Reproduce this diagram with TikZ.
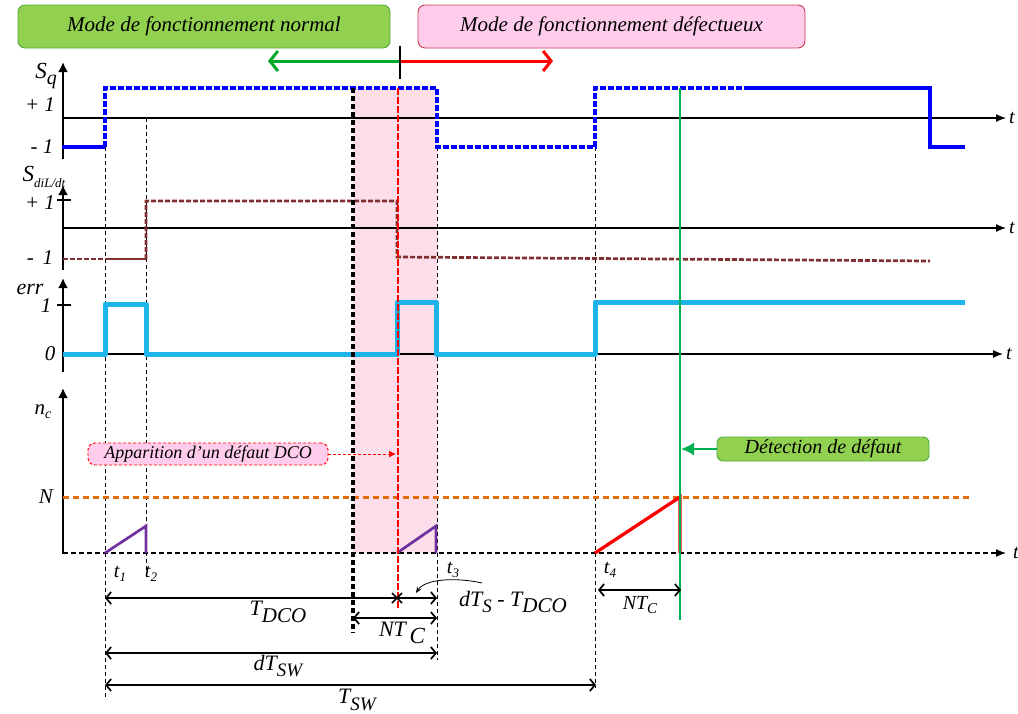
\documentclass[tikz,border=0pt]{standalone}
\usepackage{fontspec}
\usepackage{graphicx}
\setmainfont{Liberation Serif}
\usetikzlibrary{arrows.meta}
\definecolor{gboxfill}{RGB}{146,208,80}
\definecolor{gboxdraw}{RGB}{80,170,60}
\definecolor{pboxfill}{RGB}{255,204,236}
\definecolor{pboxdraw}{RGB}{200,60,80}
\definecolor{pinkarea}{RGB}{251,222,233}
\definecolor{sqblue}{RGB}{0,0,255}
\definecolor{brownsig}{RGB}{128,48,48}
\definecolor{cyansig}{RGB}{30,180,235}
\definecolor{purplesig}{RGB}{112,48,160}
\definecolor{orangesig}{RGB}{228,108,10}
\definecolor{greenline}{RGB}{0,176,80}
\definecolor{arrowgreen}{RGB}{0,170,40}
\newcommand{\mysub}[3][0.3em]{\raisebox{-#1}{\fontsize{#2}{#2}\selectfont #3}}
\tikzset{
  fsz/.style={font=\itshape\fontsize{#1}{#1}\selectfont},
  lbl/.style={inner sep=0pt, fsz=19},
  modebox/.style={rounded corners=7pt, line width=0.9pt, minimum height=43pt, inner sep=0pt, fsz=21},
  axisv/.style={line width=2.4pt, -{Latex[length=10pt,width=10pt]}},
  axish/.style={line width=1.3pt, -{Latex[length=10pt,width=8pt]}},
  guide/.style={line width=0.8pt, dash pattern=on 4pt off 3pt},
  sqsolid/.style={sqblue, line width=3.3pt},
  sqdash/.style={sqblue, line width=3.3pt, dash pattern=on 6pt off 2pt},
  brsolid/.style={brownsig, line width=2.7pt},
  brdash/.style={brownsig, line width=2.7pt, dash pattern=on 5pt off 2pt},
  errline/.style={cyansig, line width=5pt, line join=round},
  ramp/.style={line width=2.7pt},
  dimarrow/.style={line width=1.7pt, {Straight Barb[length=5pt,width=12pt]}-{Straight Barb[length=5pt,width=12pt]}},
}
\begin{document}
\begin{tikzpicture}[x=1pt,y=-1pt]
\useasboundingbox (0,0) rectangle (1018,713);

% pink fault window
\fill[pinkarea] (353,87) rectangle (437,553);

% mode boxes
\node[modebox, fill=gboxfill, draw=gboxdraw, minimum width=372pt] (normal) at (204,26.5) {Mode de fonctionnement normal};
\node[modebox, fill=pboxfill, draw=pboxdraw, minimum width=387pt] (defect) at (611.5,26.5) {Mode de fonctionnement défectueux};

% mode arrows
\coordinate (split) at (400,61);
\coordinate (gend) at (268,61);
\coordinate (rend) at (553,61);
\draw[arrowgreen, line width=3pt, -{Straight Barb[length=8pt,width=20pt]}] (split) -- (gend);
\draw[red, line width=3pt, -{Straight Barb[length=8pt,width=20pt]}] (split) -- (rend);
\draw[line width=2.4pt] (400,46) -- (400,79);

% guides
\draw[guide] (105,147) -- (105,700);
\draw[guide] (146,118) -- (146,578);
\draw[guide] (437,147) -- (437,660);
\draw[guide] (595,147) -- (595,688);

% ---------- Sq panel
\draw[axisv] (63,159) -- (63,62);
\draw[axish] (63,118) -- (1006,118);
\node[lbl, fsz=20, anchor=west] (tq) at (1009,118) {t};
\node[lbl, fsz=23] (sq) at (46,76) {S\mysub{20}{q}};
\node[lbl, fsz=21] (sqp) at (40,105) {+ 1};
\node[lbl, fsz=21] (sqm) at (42,147) {- 1};
\draw[sqsolid] (62,147) -- (105,147);
\draw[sqdash] (105,147) -- (105,88) -- (437,88) -- (437,147) -- (595,147) -- (595,88) -- (746,88);
\draw[sqsolid] (746,88) -- (930,88) -- (930,147) -- (965,147);

% ---------- SdiL/dt panel
\draw[axisv] (63,270) -- (63,185);
\draw[line width=1.7pt] (57,200) -- (71,200);
\draw[axish] (63,228) -- (1006,228);
\node[lbl, fsz=20, anchor=west] (td) at (1009,228) {t};
\node[lbl, fsz=23] (sd) at (44,177) {S\mysub[0.25em]{13}{diL/dt}};
\node[lbl, fsz=21] (sdp) at (40,203) {+ 1};
\node[lbl, fsz=21] (sdm) at (40,258) {-\, 1};
\draw[brdash] (63,259) -- (105,259);
\draw[brsolid] (105,259) -- (146,259);
\draw[brdash] (146,259) -- (146,201) -- (397,201) -- (397,257) -- (930,261);

% ---------- err panel
\draw[axisv] (63,372) -- (63,278);
\draw[line width=1.7pt] (57,305) -- (71,305);
\draw[axish] (63,354) -- (1003,354);
\node[lbl, fsz=20, anchor=west] (te) at (1006,354) {t};
\node[lbl, fsz=22] (errl) at (30,289) {err};
\node[lbl, fsz=21] (e1) at (46,306) {1};
\node[lbl, fsz=21] (e0) at (50,354) {0};
\draw[errline] (63,354) -- (105,354) -- (105,304) -- (146,304) -- (146,354) -- (397,354) -- (397,302) -- (436,302) -- (436,354) -- (595,354) -- (595,302) -- (965,302);

% ---------- nc panel
\draw[axisv] (63,554) -- (63,388);
\draw[line width=1.3pt, dash pattern=on 5pt off 3pt] (63,553) -- (1000,553);
\draw[line width=1.3pt, -{Latex[length=10pt,width=8pt]}] (998,553) -- (1006,553);
\node[lbl, fsz=20, anchor=west] (tn) at (1013,553) {t};
\node[lbl, fsz=21] (ncl) at (43,412) {n\mysub[0.2em]{14}{c}};
\node[lbl, fsz=21] (nl) at (46,497) {N};
\draw[orangesig, line width=3pt, dash pattern=on 6pt off 4pt] (63,497) -- (972,497);
\draw[purplesig, ramp] (105,553) -- (146,526) -- (146,553);
\draw[purplesig, ramp] (397,553) -- (436,526) -- (436,553);
\draw[red, line width=3.3pt] (595,553) -- (680,497) -- (680,553);

% fault markers
\draw[line width=3.3pt, dash pattern=on 5pt off 3pt] (353,88) -- (353,633);
\draw[red, line width=2.8pt, dash pattern=on 7pt off 2pt] (398,88) -- (398,610);
\draw[greenline, line width=1.7pt] (680,88) -- (680,620);

% annotation boxes
\node[rounded corners=7pt, fill=pboxfill, draw=red, dash pattern=on 3pt off 2pt, line width=0.9pt, minimum width=240pt, minimum height=22pt, inner sep=0pt, fsz=18] (app) at (208,454) {Apparition d'un défaut DCO};
\coordinate (append) at (396,454);
\draw[red, line width=0.9pt, dash pattern=on 3pt off 2pt, -{Latex[length=7pt,width=7pt]}] (app.east) -- (append);

\node[rounded corners=6pt, fill=gboxfill, draw=gboxdraw, line width=0.9pt, minimum width=212pt, minimum height=24pt, inner sep=0pt, fsz=20] (det) at (823,449) {Détection de défaut};
\coordinate (detend) at (681,449);
\draw[greenline, line width=1.8pt, -{Latex[length=13pt,width=13pt]}] (det.west) -- (detend);

% time labels
\node[lbl, fsz=20] (t1) at (120,574) {t\mysub[0.2em]{13}{1}};
\node[lbl, fsz=20] (t2) at (151,574) {t\mysub[0.2em]{13}{2}};
\node[lbl, fsz=20] (t3) at (453,570) {t\mysub[0.2em]{13}{3}};
\node[lbl, fsz=20] (t4) at (610,570) {t\mysub[0.2em]{13}{4}};

% dimension arrows
\coordinate (a1) at (105,598); \coordinate (a2) at (437,598);
\draw[dimarrow] (a1) -- (a2);
\draw[line width=1.7pt] (392,593) -- (402,603) (392,603) -- (402,593);
\node[lbl, fsz=22] (tdco) at (278,612) {T\mysub{21}{DCO}};

\coordinate (b1) at (353,618); \coordinate (b2) at (437,618);
\draw[dimarrow] (b1) -- (b2);
\node[lbl, fsz=22] (ntc) at (402,633) {NT\,\mysub{23}{C}};

\coordinate (c1) at (105,653); \coordinate (c2) at (437,653);
\draw[dimarrow] (c1) -- (c2);
\node[lbl, fsz=22] (dtsw) at (278,666) {dT\mysub{19}{SW}};

\coordinate (d1) at (105,685); \coordinate (d2) at (596,685);
\draw[dimarrow] (d1) -- (d2);
\node[lbl, fsz=22] (tsw) at (357,700) {T\mysub{19}{SW}};

\coordinate (e1c) at (598,590); \coordinate (e2c) at (681,590);
\draw[dimarrow] (e1c) -- (e2c);
\node[lbl, fsz=20] (ntc2) at (640,605) {NT\mysub[0.2em]{15}{C}};

\node[lbl, fsz=22] (dts) at (513,602) {dT\mysub{19}{S} - T\mysub{21}{DCO}};
\coordinate (cstart) at (482,583);
\coordinate (cend) at (416,593);
\draw[line width=0.8pt, -{Stealth[length=6pt,width=5pt]}] (cstart) .. controls (455,577) and (425,579) .. (cend);

\end{tikzpicture}
\end{document}
